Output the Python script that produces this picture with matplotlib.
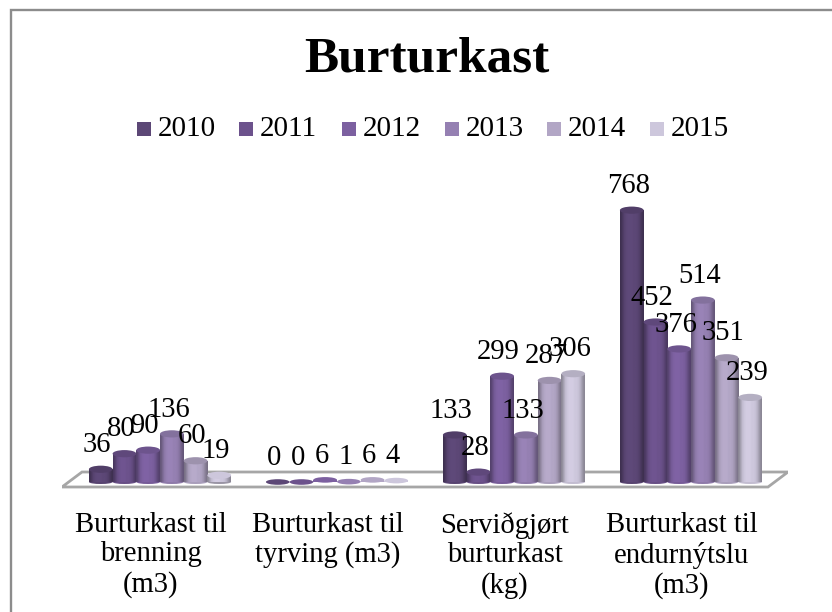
import matplotlib as mpl
mpl.use("Agg")
import matplotlib.pyplot as plt
import numpy as np
from matplotlib.patches import Ellipse, Polygon, Rectangle

W, H = 832, 612

years = ['2010', '2011', '2012', '2013', '2014', '2015']
categories = ['Burturkast til\nbrenning\n(m3)', 'Burturkast til\ntyrving (m3)',
              'Serviðgjørt\nburturkast\n(kg)', 'Burturkast til\nendurnýtslu\n(m3)']
v2010 = [36, 0, 133, 768]
v2011 = [80, 0, 28, 452]
v2012 = [90, 6, 299, 376]
v2013 = [136, 1, 133, 514]
v2014 = [60, 6, 287, 351]
v2015 = [19, 4, 306, 239]
colors = ['#5c4776', '#6c528c', '#7c60a0', '#9580b2', '#b2a6c5', '#cdc7dc']

plt.rcParams['font.family'] = ['Liberation Serif', 'DejaVu Serif']

fig = plt.figure(figsize=(W / 100, H / 100), dpi=100)

# outer frame, right and bottom side run off the picture
fig.add_artist(Rectangle((10.5 / W, -10 / H), (W + 10) / W, (H + 10 - 10) / H, transform=fig.transFigure,
                         fill=False, ec='#8c8c8c', lw=1.7))

# axes run over the plot area, 177 px per group, 0.354 px per unit
left, right, top, bottom = 62, 788, 190, 490
ax = fig.add_axes([left / W, 1 - bottom / H, (right - left) / W, (bottom - top) / H])
xlim = (-0.5537, 3.548)
ylim = (-22.6, 825)
ax.axis('off')

# floor
ax.add_patch(Polygon([(0, 3 / 300), (20 / 726, 18 / 300), (1, 18 / 300), (706 / 726, 3 / 300)],
                     transform=ax.transAxes, fc='white', ec='#a6a6a6', lw=2, zorder=1))

w = 23.7 / 177
ell_h = 8 / 0.354
shade = np.array([0.68, 0.82, 0.95, 1.0, 1.03, 1.03, 1.03, 1.0, 1.0, 0.97, 0.9, 0.78, 0.68])
series = [v2010, v2011, v2012, v2013, v2014, v2015]
for j, vals in enumerate(series):
    x = np.arange(len(categories)) + (j - 2.5) * w
    rgb = np.array(mpl.colors.to_rgb(colors[j]))
    z = 2 + j * 0.1
    bars = ax.bar(x, vals, width=w, color=colors[j], zorder=z)
    for xi, v, b in zip(x, vals, bars):
        if v >= 10:
            img = np.clip(rgb[None, None, :] * shade[None, :, None], 0, 1)
            im = ax.imshow(img, extent=(xi - w / 2, xi + w / 2, 0, v), aspect='auto',
                           interpolation='bilinear', zorder=z + 0.01)
            im.set_clip_path(b)
            # very short bars show their light top, the side goes darker under it
            top_f, base_f = (1.0, 0.75) if v < 25 else (0.88, 0.95)
            ax.add_patch(Ellipse((xi, 0), w, ell_h * 0.5, fc=np.clip(rgb * base_f, 0, 1), ec='none', zorder=z))
            ax.add_patch(Ellipse((xi, v), w, ell_h * 0.9, fc=np.clip(rgb * top_f, 0, 1), ec='none', zorder=z + 0.02))
        else:
            ax.add_patch(Ellipse((xi, v), w, ell_h * 0.7, fc=colors[j], ec='none', zorder=z + 0.02))
        ax.annotate(str(v), (xi, v), xytext=(-2.5, 17.5), textcoords='offset points',
                    ha='center', va='center', fontsize=20.6, color='black', zorder=5,
                    annotation_clip=False)
ax.set_xlim(xlim)
ax.set_ylim(ylim)

fig.text(427 / W, 1 - 60 / H, 'Burturkast', ha='center', va='center', fontsize=37, fontweight='bold')

# legend
lx = [137, 239, 342, 445, 547, 650]
for j, y in enumerate(years):
    fig.add_artist(Rectangle((lx[j] / W, 1 - 136 / H), 14 / W, 14 / H, fc=colors[j], ec='none',
                             transform=fig.transFigure))
    fig.text((lx[j] + 21) / W, 1 - 129 / H, y, ha='left', va='center', fontsize=21)

# category labels sit 9 px left of the group centre, offsets are in points
for i, c in enumerate(categories):
    ax.annotate(c, (i, 0), xycoords=('data', 'figure fraction'), xytext=(-6.5, 72),
                textcoords='offset points', ha='center', va='top', fontsize=20.6,
                linespacing=1.17, annotation_clip=False)

fig.savefig('out.png', dpi=100)
plt.close(fig)
